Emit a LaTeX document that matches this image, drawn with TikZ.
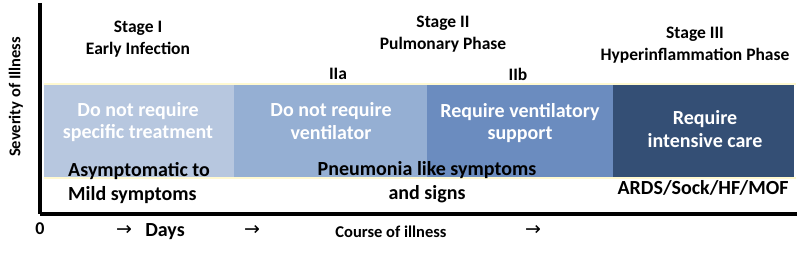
\documentclass[tikz,border=0pt]{standalone}
\usepackage{fontspec}
\setmainfont{Carlito}
\newfontfamily\arrowfont{DejaVu Sans}
\definecolor{bandA}{HTML}{B7C7DF}
\definecolor{bandB}{HTML}{95AFD3}
\definecolor{bandC}{HTML}{6B8CBF}
\definecolor{bandD}{HTML}{344F75}
\definecolor{paleline}{HTML}{FFF9D0}
\tikzset{
  hdr/.style={font=\bfseries\fontsize{17.5}{22}\selectfont, align=center, inner sep=0pt},
  bandtxt/.style={font=\bfseries\fontsize{20}{22.5}\selectfont, align=center, text=white, inner sep=0pt},
  symtxt/.style={font=\bfseries\fontsize{20}{24}\selectfont, inner sep=0pt},
  axtxt/.style={font=\bfseries\fontsize{16.5}{18}\selectfont, inner sep=0pt},
  arrtxt/.style={font=\arrowfont\fontsize{19}{20}\selectfont, inner sep=0pt},
  band/.style={draw=none, inner sep=0pt, anchor=north west},
  axisline/.style={line width=4pt, black}
}
\begin{document}
\begin{tikzpicture}[x=1pt,y=-1pt]
\useasboundingbox (0,0) rectangle (800,253);
% bands
\node[band, fill=bandA, minimum width=190pt, minimum height=92pt] (b1) at (44,85) {};
\node[band, fill=bandB, minimum width=193pt, minimum height=92pt] (b2) at (234,85) {};
\node[band, fill=bandC, minimum width=186pt, minimum height=92pt] (b3) at (427,85) {};
\node[band, fill=bandD, minimum width=181pt, minimum height=92pt] (b4) at (613,85) {};
% pale lines
\coordinate (pl1) at (44,84);
\coordinate (pl2) at (796,84);
\coordinate (pl3) at (44,178);
\coordinate (pl4) at (796,178);
\draw[paleline, line width=2pt] (pl1) -- (pl2);
\draw[paleline, line width=2pt] (pl3) -- (pl4);
% axes
\coordinate (ytop) at (40,3);
\coordinate (orig) at (40,214);
\coordinate (xend) at (797,214);
\draw[axisline] (ytop) -- (orig);
\draw[axisline] (orig) -- (xend);
\node[axtxt, rotate=90] (ylab) at (16,97) {Severity of Illness};
% headers
\node[hdr] (s1) at (138,39) {Stage I\\Early Infection};
\node[hdr] (s2) at (443,34) {Stage II\\Pulmonary Phase};
\node[hdr] (s3) at (695,45) {Stage III\\Hyperinflammation Phase};
\node[hdr] (s2a) at (338,74) {IIa};
\node[hdr] (s2b) at (518,74) {IIb};
% band texts
\node[bandtxt] (t1) at (138,122) {Do not require\\specific treatment};
\node[bandtxt] (t2) at (331,121) {Do not require\\ventilator};
\node[bandtxt] (t3) at (520,123) {Require ventilatory\\support};
\node[bandtxt] (t4) at (705,129) {Require\\intensive care};
% symptoms
\node[symtxt, align=left, anchor=west] (m1) at (68,183) {Asymptomatic to\\Mild symptoms};
\node[symtxt, align=center] (m2) at (427,182) {Pneumonia like symptoms\\and signs};
\node[symtxt] (m3) at (703,188) {ARDS/Sock/HF/MOF};
% x axis labels
\node[axtxt, font=\bfseries\fontsize{18}{18}\selectfont] (zero) at (40,229) {0};
\node[arrtxt] (ar1) at (124,230) {→};
\node[axtxt, font=\bfseries\fontsize{20}{20}\selectfont] (days) at (165,232) {Days};
\node[arrtxt] (ar2) at (252,230) {→};
\node[axtxt] (course) at (391,232) {Course of illness};
\node[arrtxt] (ar3) at (533,230) {→};
\end{tikzpicture}
\end{document}
